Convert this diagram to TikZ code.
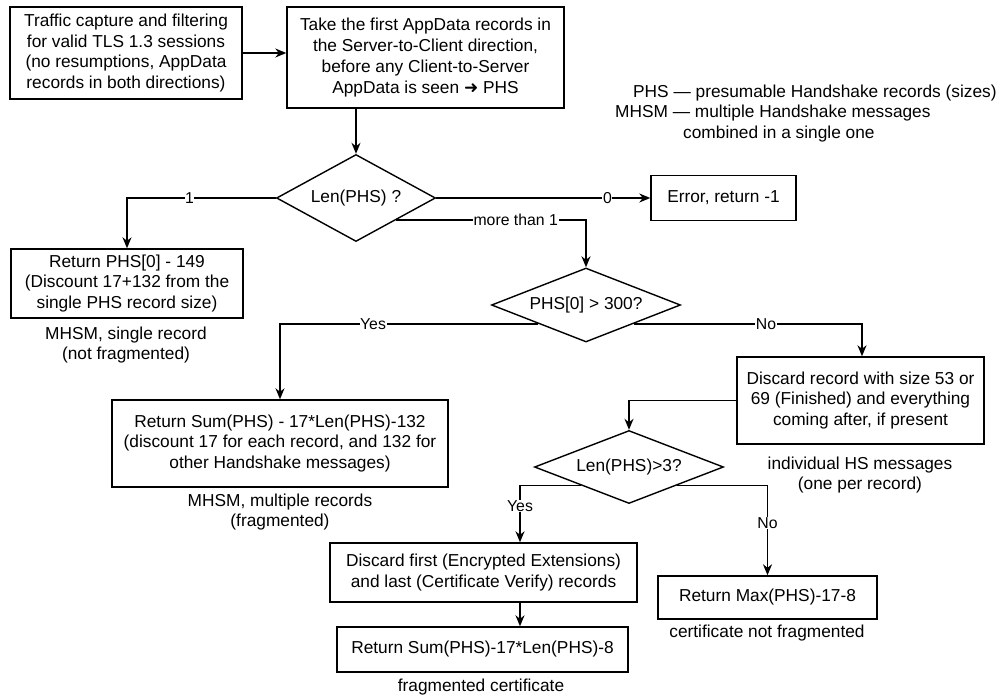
\documentclass[tikz,border=0pt]{standalone}
\usepackage{fontspec}
\setmainfont{Liberation Sans}
\newfontfamily\symfont{DejaVu Sans}
\usetikzlibrary{arrows.meta,shapes.geometric}
\newcommand\mainfs{\fontsize{17.3}{20.7}\selectfont}
\newcommand\labfs{\fontsize{15.8}{18}\selectfont}
\tikzset{
  box/.style={draw, line width=1.4pt, rectangle, align=center, inner sep=0pt, font=\mainfs},
  dia/.style={draw, line width=1.4pt, diamond, inner sep=0pt, font=\mainfs},
  lab/.style={fill=white, inner sep=0.6pt, font=\labfs},
  note/.style={align=center, inner sep=0pt, font=\mainfs},
  arr/.style={line width=1.4pt, -{Stealth[length=11pt,width=9pt,inset=3.5pt]}},
}
\begin{document}
\begin{tikzpicture}[x=1pt,y=-1pt]
\useasboundingbox[fill=white] (0,0) rectangle (1005,698);

% boxes
\node[box, minimum width=232pt, minimum height=92pt] (b1) at (126,53)
  {Traffic capture and filtering\\for valid TLS 1.3 sessions\\(no resumptions, AppData\\records in both directions)};
\node[box, minimum width=277pt, minimum height=101pt] (b2) at (425.5,57.5)
  {Take the first AppData records in\\the Server-to-Client direction,\\before any Client-to-Server\\AppData is seen {\symfont\fontsize{17}{16}\selectfont ➜} PHS};

% legend
\node[anchor=west, inner sep=0pt, font=\mainfs] (lg1) at (633,93) {PHS — presumable Handshake records (sizes)};
\node[anchor=west, inner sep=0pt, font=\mainfs] (lg2) at (615,113) {MHSM — multiple Handshake messages};
\node[anchor=west, inner sep=0pt, font=\mainfs] (lg3) at (683,134) {combined in a single one};

% decisions
\node[dia, minimum width=159pt, minimum height=87pt, aspect=1.83] (d1) at (356,198) {Len(PHS) ?};
\node[dia, minimum width=189pt, minimum height=74pt, aspect=2.55] (d2) at (586,305) {PHS[0] > 300?};
\node[dia, minimum width=189pt, minimum height=73pt, aspect=2.55] (d3) at (629,467) {Len(PHS)>3?};

% result boxes
\node[box, minimum width=232pt, minimum height=69pt] (b3) at (127,283.5)
  {Return PHS[0] - 149\\(Discount 17+132 from the\\single PHS record size)};
\node[box, minimum width=145pt, minimum height=45pt] (err) at (723.5,198) {Error, return -1};
\node[box, minimum width=336pt, minimum height=87pt] (b4) at (280,443.5)
  {Return Sum(PHS) - 17*Len(PHS)-132\\(discount 17 for each record, and 132 for\\other Handshake messages)};
\node[box, minimum width=247pt, minimum height=87pt] (b5) at (860.5,400.5)
  {Discard record with size 53 or\\69 (Finished) and everything\\coming after, if present};
\node[box, minimum width=307pt, minimum height=59pt] (b6) at (483.5,572.5)
  {Discard first (Encrypted Extensions)\\and last (Certificate Verify) records};
\node[box, minimum width=291pt, minimum height=45pt] (b8) at (482.5,649.5)
  {Return Sum(PHS)-17*Len(PHS)-8};
\node[box, minimum width=219pt, minimum height=43pt] (b7) at (767.5,597.5)
  {Return Max(PHS)-17-8};

% notes
\node[note] (n3) at (126,345) {MHSM, single record\\(not fragmented)};
\node[note] (n4) at (280,512) {MHSM, multiple records\\(fragmented)};
\node[note] (n5) at (860,475) {individual HS messages\\(one per record)};
\node[note] (n8) at (481,687) {fragmented certificate};
\node[note] (n7) at (767,633) {certificate not fragmented};

% connectors
\draw[arr] (b1.east) -- (b1.east -| b2.west);
\draw[arr] (d1.north |- b2.south) -- (d1.north);
\draw[arr] (d1.west) -| (b3.north) node[lab, pos=0.29] {1};
\draw[arr] (d1.east) -- (err.west) node[lab, pos=0.8] {0};
\draw[arr] (d1.south east) -| (d2.north) node[lab, pos=0.315] {more than 1};
\draw[arr] (d2.south west) -| (b4.north) node[lab, pos=0.32] {Yes};
\draw[arr] (d2.south east) -| ([xshift=1.5pt]b5.north) node[lab, pos=0.29] {No};
\draw[arr] (b5.west) -| (d3.north);
\draw[arr] (d3.south west) -| ([xshift=36.5pt]b6.north) node[lab, pos=0.68] {Yes};
\draw[arr] (d3.south east) -| (b7.north) node[lab, pos=0.71] {No};
\draw[arr] ([xshift=36.5pt]b6.south) -- ([xshift=36.5pt]b6.south |- b8.north);
\end{tikzpicture}
\end{document}
